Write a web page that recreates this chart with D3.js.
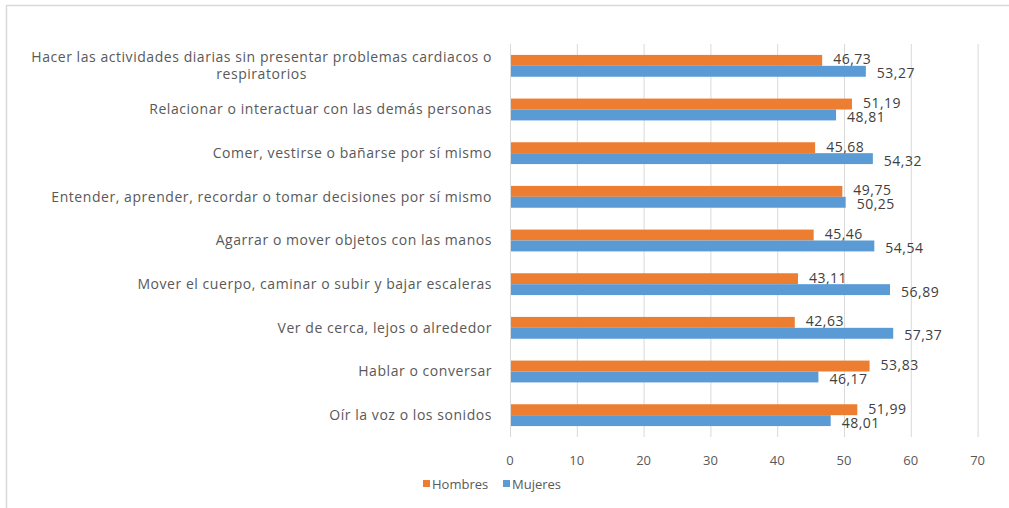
<!DOCTYPE html>
<html><head><meta charset="utf-8">
<script src="https://cdn.jsdelivr.net/npm/d3@7"></script>
<style>
html,body{margin:0;padding:0;background:#fff;}
svg{display:block;font-family:"Open Sans",Lato,sans-serif;}
</style></head>
<body><svg id="c" width="1009" height="508"></svg>
<script>
const categories = [
  "Hacer las actividades diarias sin presentar problemas cardiacos o respiratorios",
  "Relacionar o interactuar con las demás personas",
  "Comer, vestirse o bañarse por sí mismo",
  "Entender, aprender, recordar o tomar decisiones por sí mismo",
  "Agarrar o mover objetos con las manos",
  "Mover el cuerpo, caminar o subir y bajar escaleras",
  "Ver de cerca, lejos o alrededor",
  "Hablar o conversar",
  "Oír la voz o los sonidos"
];
const hombres = [46.73, 51.19, 45.68, 49.75, 45.46, 43.11, 42.63, 53.83, 51.99];
const mujeres = [53.27, 48.81, 54.32, 50.25, 54.54, 56.89, 57.37, 46.17, 48.01];
const seriesNames = ["Hombres", "Mujeres"];
const xTicks = [0, 10, 20, 30, 40, 50, 60, 70];
const labelLines = [
  ["Hacer las actividades diarias sin presentar problemas cardiacos o", "respiratorios"]
];

const colors = {Hombres: "#ED7D31", Mujeres: "#5B9BD5"};
const svg = d3.select("#c");

// chart border (top and left visible)
svg.append("line").attr("x1", 6).attr("x2", 1009).attr("y1", 5.5).attr("y2", 5.5)
  .attr("stroke", "#d9d9d9").attr("stroke-width", 1.5);
svg.append("line").attr("x1", 6.5).attr("x2", 6.5).attr("y1", 5).attr("y2", 508)
  .attr("stroke", "#d9d9d9").attr("stroke-width", 1.5);

const pLeft = 510, pRight = 977.6, pTop = 44, pBottom = 437;
const x = d3.scaleLinear().domain([0, 70]).range([pLeft, pRight]);
const y = d3.scaleBand().domain(categories).range([pTop, pBottom]).paddingInner(0.5).paddingOuter(0.25);
const sub = d3.scaleBand().domain(seriesNames).range([0, y.bandwidth()]);

// gridlines
svg.append("g").selectAll("line").data(xTicks).join("line")
  .attr("x1", d => x(d) + 0.5).attr("x2", d => x(d) + 0.5)
  .attr("y1", pTop).attr("y2", pBottom)
  .attr("stroke", "#d9d9d9").attr("stroke-width", 1);

// x axis labels
svg.append("g").selectAll("text").data(xTicks).join("text")
  .attr("x", d => x(d)).attr("y", 465)
  .attr("text-anchor", "middle").attr("fill", "#595959").attr("font-size", 13)
  .text(d => d);

const data = categories.map((c, i) => ({cat: c, Hombres: hombres[i], Mujeres: mujeres[i]}));

const g = svg.append("g");
seriesNames.forEach(s => {
  g.selectAll("rect." + s).data(data).join("rect")
    .attr("class", s)
    .attr("x", x(0))
    .attr("y", d => y(d.cat) + sub(s))
    .attr("width", d => x(d[s]) - x(0))
    .attr("height", sub.bandwidth())
    .attr("fill", colors[s]);
  g.selectAll("text." + s).data(data).join("text")
    .attr("class", s)
    .attr("x", d => x(d[s]) + 11)
    .attr("y", d => y(d.cat) + sub(s) + sub.bandwidth() / 2 + (s === "Hombres" ? -1 : 2))
    .attr("dy", "0.35em")
    .attr("fill", "#404040").attr("font-size", 14).attr("letter-spacing", 0.5)
    .text(d => d3.format(".2f")(d[s]).replace(".", ","));
});

// axis line
svg.append("line").attr("x1", pLeft + 0.5).attr("x2", pLeft + 0.5).attr("y1", pTop).attr("y2", pBottom)
  .attr("stroke", "#d9d9d9");

// category labels
const cl = svg.append("g");
categories.forEach((c, i) => {
  const cy = y(c) + y.bandwidth() / 2;
  if (i === 0) {
    const lines = labelLines[0];
    const t = cl.append("text").attr("fill", "#595959").attr("font-size", 14)
      .attr("letter-spacing", 0.55).attr("text-anchor", "middle");
    const s1 = t.append("tspan").attr("y", cy - 9).attr("dy", "0.35em").text(lines[0]);
    const w = s1.node().getComputedTextLength();
    s1.attr("x", 492 - w / 2);
    t.append("tspan").attr("x", 492 - w / 2).attr("y", cy + 8).attr("dy", "0.35em").text(lines[1]);
  } else {
    cl.append("text").attr("x", 492).attr("y", cy).attr("dy", "0.35em")
      .attr("letter-spacing", 0.55)
      .attr("text-anchor", "end").attr("fill", "#595959").attr("font-size", 14).text(c);
  }
});

// legend
const lg = svg.append("g");
[["Hombres", 423], ["Mujeres", 503]].forEach(([s, lx]) => {
  lg.append("rect").attr("x", lx).attr("y", 480).attr("width", 7).attr("height", 7).attr("fill", colors[s]);
  lg.append("text").attr("x", lx + 9).attr("y", 484).attr("dy", "0.35em")
    .attr("fill", "#595959").attr("font-size", 13).text(s);
});
</script></body></html>
